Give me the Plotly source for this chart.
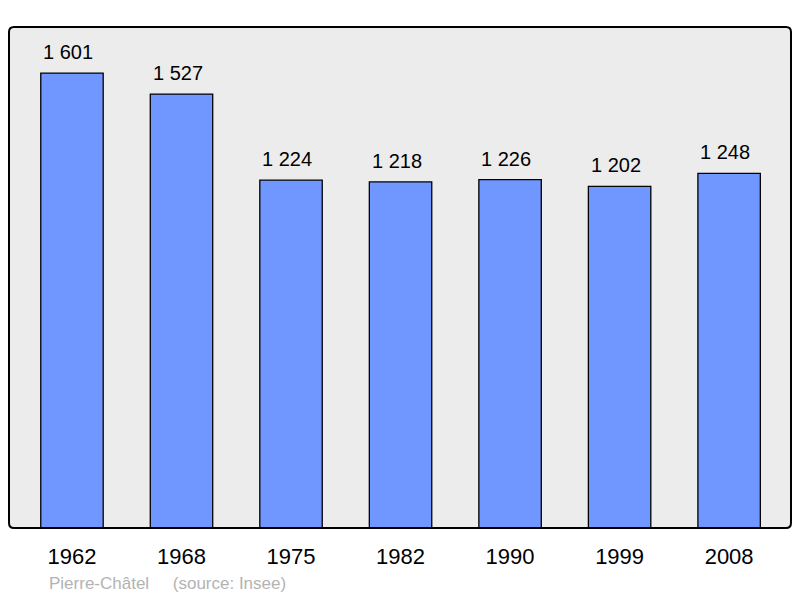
import plotly.graph_objects as go

years = ["1962", "1968", "1975", "1982", "1990", "1999", "2008"]
population = [1601, 1527, 1224, 1218, 1226, 1202, 1248]
labels = ["1 601", "1 527", "1 224", "1 218", "1 226", "1 202", "1 248"]

FONT = "Liberation Sans, Arial, sans-serif"

fig = go.Figure()
fig.add_trace(go.Bar(
    x=years, y=population, width=0.57,
    marker=dict(color="#7096ff", line=dict(color="#000000", width=1.3)),
    hoverinfo="skip",
))

for i, (v, t) in enumerate(zip(population, labels)):
    fig.add_annotation(x=i, y=v, text=t, showarrow=False, yanchor="bottom",
                       yshift=8, xshift=-4, font=dict(size=20, color="#000000", family=FONT))

fig.add_annotation(xref="paper", yref="paper", x=0.049, y=-0.11, xanchor="left",
                   yanchor="middle", showarrow=False,
                   text="Pierre-Châtel&nbsp;&nbsp;&nbsp;&nbsp;&nbsp;(source: Insee)",
                   font=dict(size=17, color="#b3b3b3", family=FONT))

# rounded frame around the plot area
rx, ry = 5 / 782, 5 / 501
frame = (f"M {rx},0 L {1-rx},0 Q 1,0 1,{ry} L 1,{1-ry} Q 1,1 {1-rx},1 "
         f"L {rx},1 Q 0,1 0,{1-ry} L 0,{ry} Q 0,0 {rx},0 Z")
fig.add_shape(type="path", xref="paper", yref="paper", path=frame,
              line=dict(color="#000000", width=2), layer="above")

fig.update_layout(
    width=800, height=598,
    margin=dict(l=9, r=9, t=27, b=70),
    paper_bgcolor="#ffffff", plot_bgcolor="#ececec",
    showlegend=False,
    xaxis=dict(type="category", range=[-0.575, 6.565], showgrid=False, zeroline=False,
               ticks="outside", ticklen=9, tickcolor="rgba(0,0,0,0)",
               tickfont=dict(size=22, color="#000000", family=FONT)),
    yaxis=dict(range=[0, 1763], showgrid=False, zeroline=False, showticklabels=False),
)

fig.write_html("out.html", config={"displayModeBar": False},
               post_script="document.body.style.margin='0';document.body.style.overflow='hidden';")
